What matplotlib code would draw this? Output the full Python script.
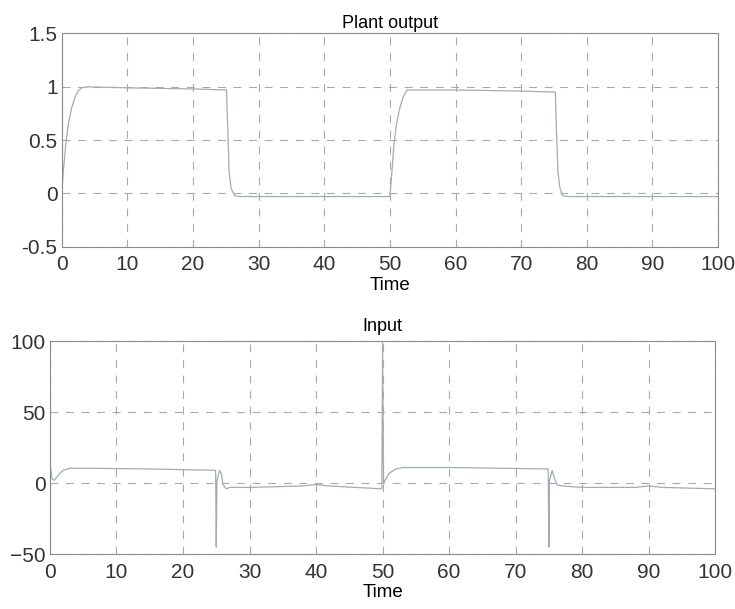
import numpy as np
import matplotlib.pyplot as plt

plt.rcParams['font.family'] = ['Liberation Sans', 'DejaVu Sans']

# plant output
out_t = [0, 0.3, 0.6, 1.0, 1.5, 2.0, 2.5, 3.0, 4, 10, 20, 25.1,
         25.3, 25.5, 25.8, 26.3, 27, 35, 45, 50,
         50.3, 50.6, 51.0, 51.5, 52.0, 52.6, 54, 60, 70, 75.2,
         75.4, 75.6, 75.9, 76.3, 77, 85, 95, 100]
out_y = [0, 0.25, 0.45, 0.65, 0.8, 0.9, 0.96, 0.99, 1.0, 0.99, 0.98, 0.97,
         0.6, 0.2, 0.05, -0.02, -0.03, -0.03, -0.03, -0.03,
         0.2, 0.45, 0.65, 0.8, 0.9, 0.97, 0.97, 0.97, 0.96, 0.95,
         0.55, 0.2, 0.05, -0.02, -0.03, -0.03, -0.03, -0.03]

# control input
in_t = [0, 0.1, 0.3, 0.6, 1.0, 1.5, 2, 3, 5, 15, 24.9,
        25.0, 25.1, 25.5, 25.8, 26.0, 26.5, 27, 30, 38, 40, 42, 49.9,
        50.0, 50.15, 50.5, 51, 52, 53, 60, 74.9,
        75.0, 75.1, 75.5, 75.8, 76.2, 77, 80, 88, 90, 92, 100]
in_u = [15, 10, 3, 2, 4, 7, 9, 10.5, 10.5, 10, 9,
        -45, 2, 9, 6, -1, -4, -3, -3, -2, -1, -2, -4,
        100, 0, 3, 7, 10, 11, 11, 10,
        -45, 2, 9, 4, -1, -2, -3, -3, -2, -3, -4]

line_c = '#a3abb4'
grid_c = '#a8a8a8'

fig = plt.figure(figsize=(7.35, 6.09), dpi=100)
ax1 = fig.add_axes([0.084, 0.595, 0.893, 0.35])
ax2 = fig.add_axes([0.068, 0.09, 0.905, 0.35])

ax1.plot(out_t, out_y, color=line_c, lw=0.9)
ax1.set_xlim(0, 100)
ax1.set_ylim(-0.5, 1.5)
ax1.set_yticks([-0.5, 0, 0.5, 1, 1.5])
ax1.set_yticklabels(['-0.5', '0', '0.5', '1', '1.5'])
ax1.set_title('Plant output', fontsize=13, pad=4)
ax1.set_xlabel('Time', fontsize=13.5, labelpad=2)

ax2.plot(in_t, in_u, color=line_c, lw=0.9)
ax2.set_xlim(0, 100)
ax2.set_ylim(-50, 100)
ax2.set_yticks([-50, 0, 50, 100])
ax2.set_title('Input', fontsize=13, pad=7)
ax2.set_xlabel('Time', fontsize=13.5, labelpad=2)

for ax in (ax1, ax2):
    ax.set_xticks(np.arange(0, 101, 10))
    ax.grid(True, color=grid_c, ls=(0, (7, 7)), lw=0.8)
    ax.tick_params(labelsize=15, length=0, pad=3, colors='#333333')
    ax.tick_params(axis='x', pad=6)
    for s in ax.spines.values():
        s.set_color('#8a8a8a')
        s.set_linewidth(0.8)

fig.savefig('out.png', dpi=100)
